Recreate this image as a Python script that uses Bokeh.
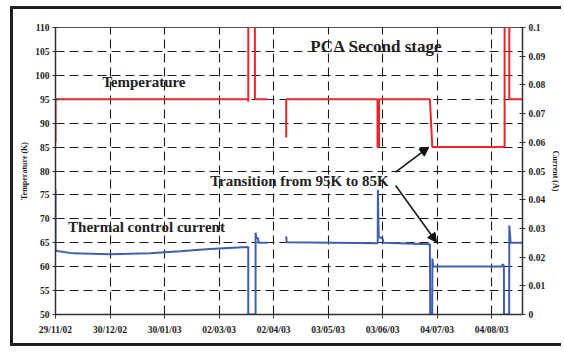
import numpy as np
import pandas as pd
from bokeh.plotting import figure
from bokeh.models import (Range1d, LinearAxis, FixedTicker, DatetimeTickFormatter,
                          NumeralTickFormatter, Label, Arrow, NormalHead, ColumnDataSource)
from bokeh.embed import file_html
from bokeh.resources import INLINE

nan = float("nan")

# ---- data -------------------------------------------------------------
tick_dates = ["2002-11-29", "2002-12-30", "2003-01-30", "2003-03-02", "2003-04-02",
              "2003-05-03", "2003-06-03", "2003-07-04", "2003-08-04"]
x_start_date = "2002-11-29 00:00"
x_end_date = "2003-08-21 14:00"

temp_time = ["2002-11-29 00:00", "2002-11-29 00:00", "2003-03-18 15:00", "2003-03-18 15:00",
             "2003-03-18 16:00", "2003-03-22 09:00", "2003-03-22 10:00", "2003-03-29 14:00",
             "2003-04-04 00:00",
             "2003-04-09 05:00", "2003-04-09 05:00", "2003-05-31 03:00", "2003-05-31 03:00",
             "2003-06-01 00:00", "2003-06-01 00:00", "2003-06-29 22:00", "2003-07-01 07:00",
             "2003-08-11 10:00", "2003-08-11 10:00", "2003-08-14 02:00", "2003-08-14 02:00",
             "2003-08-21 14:00"]
temp_K = [86, 95, 95, 94.5,
          125, 125, 95, 95,
          nan,
          87, 95, 95, 85,
          85, 95, 95, 85,
          85, 125, 125, 95,
          95]

cur_time = ["2002-11-29 00:00", "2002-11-29 00:00", "2002-12-09 00:00", "2002-12-30 00:00",
            "2003-01-22 00:00", "2003-01-30 00:00", "2003-02-08 00:00", "2003-02-17 00:00",
            "2003-02-25 00:00", "2003-03-10 00:00", "2003-03-18 15:00", "2003-03-18 15:00",
            "2003-03-22 19:00", "2003-03-22 19:00", "2003-03-23 06:00", "2003-03-24 06:00",
            "2003-03-24 12:00", "2003-03-29 14:00",
            "2003-04-04 00:00",
            "2003-04-09 05:00", "2003-04-09 12:00", "2003-05-31 06:00", "2003-05-31 08:00",
            "2003-05-31 20:00", "2003-06-03 00:00", "2003-06-03 12:00", "2003-06-29 22:00",
            "2003-06-30 02:00", "2003-07-01 06:00", "2003-07-01 08:00", "2003-07-01 18:00",
            "2003-08-10 00:00", "2003-08-10 06:00", "2003-08-11 00:00", "2003-08-11 02:00",
            "2003-08-14 00:00", "2003-08-14 02:00", "2003-08-14 20:00", "2003-08-21 14:00"]
cur_A = [0.0435, 0.0222, 0.0213, 0.0210,
         0.0213, 0.0217, 0.0220, 0.0225,
         0.0228, 0.0233, 0.0235, 0.0,
         0.0, 0.0285, 0.0267, 0.0265,
         0.0250, 0.0250,
         nan,
         0.0272, 0.0252, 0.0248, 0.0435,
         0.0270, 0.0265, 0.0250, 0.0245,
         0.0, 0.0, 0.0195, 0.0168,
         0.0167, 0.0175, 0.0170, 0.0,
         0.0, 0.0310, 0.0250, 0.0250]

temp_ticks = [50, 55, 60, 65, 70, 75, 80, 85, 90, 95, 100, 105, 110]
cur_ticks = [0, 0.01, 0.02, 0.03, 0.04, 0.05, 0.06, 0.07, 0.08, 0.09, 0.1]


def ms(s):
    return pd.Timestamp(s).value / 1e6


FONT = "Liberation Serif"
INK = "#222222"

p = figure(width=551, height=340, x_axis_type="datetime",
           x_range=Range1d(ms(x_start_date), ms(x_end_date)),
           y_range=Range1d(50, 110),
           output_backend="svg", toolbar_location=None,
           min_border_left=42, min_border_right=42, min_border_top=18, min_border_bottom=35,
           background_fill_color="white", border_fill_color="white")
p.styles = {"margin-left": "10px", "margin-top": "6px",
            "border-left": "3px solid #1e1e1e", "border-top": "3px solid #1e1e1e",
            "border-bottom": "3px solid #1e1e1e"}
p.outline_line_color = "#555555"
p.outline_line_width = 1

p.extra_y_ranges = {"cur": Range1d(0, 0.1)}

src_t = ColumnDataSource(dict(t=pd.to_datetime(temp_time), v=temp_K))
src_c = ColumnDataSource(dict(t=pd.to_datetime(cur_time), v=cur_A))
p.line("t", "v", source=src_t, line_color="#e8262b", line_width=2)
p.line("t", "v", source=src_c, line_color="#3f5fae", line_width=2, y_range_name="cur")

# grids
for g in (p.xgrid, p.ygrid):
    g.grid_line_color = "#1a1a1a"
    g.grid_line_dash = "9 5"
    g.grid_line_width = 1.1

# axes
xa = p.xaxis[0]
xa.ticker = FixedTicker(ticks=[ms(d) for d in tick_dates])
fmt = "%d/%m/%y"
xa.formatter = DatetimeTickFormatter(microseconds=fmt, milliseconds=fmt, seconds=fmt,
                                     minsec=fmt, minutes=fmt, hourmin=fmt, hours=fmt,
                                     days=fmt, months=fmt, years=fmt)
p.xgrid.ticker = xa.ticker

ya = p.yaxis[0]
ya.ticker = FixedTicker(ticks=temp_ticks)
ya.axis_label = "Temperature (K)"

ra = LinearAxis(y_range_name="cur", axis_label="Current (A)")
ra.ticker = FixedTicker(ticks=cur_ticks)
ra.formatter = NumeralTickFormatter(format="0.[00]")
p.add_layout(ra, "right")

for ax in (xa, ya, ra):
    ax.axis_line_color = "#333333"
    ax.axis_line_width = 1.5
    ax.major_tick_line_color = "#333333"
    ax.major_tick_line_width = 1
    ax.minor_tick_line_color = None
    ax.major_label_text_font = FONT
    ax.major_label_text_font_style = "bold"
    ax.major_label_text_font_size = "9.5px"
    ax.major_label_text_color = INK
    ax.axis_label_text_font = FONT
    ax.axis_label_text_font_style = "bold"
    ax.axis_label_text_font_size = "8px"
    ax.axis_label_text_color = INK
    ax.major_label_standoff = 3
    ax.axis_label_standoff = 3

xa.major_tick_in = 0
xa.major_tick_out = 4
xa.major_label_standoff = 6
for ax in (ya, ra):
    ax.major_tick_in = 3
    ax.major_tick_out = 3

# texts
def label(x, y, text, size):
    p.add_layout(Label(x=ms(x), y=y, text=text, text_font=FONT, text_font_style="bold",
                       text_font_size=size, text_color=INK, text_align="center",
                       text_baseline="middle"))

label("2003-05-30 12:00", 106.0, "PCA Second stage", "17px")
label("2003-01-18 06:00", 98.7, "Temperature", "15px")
label("2003-01-19 18:00", 68.2, "Thermal control current", "15px")
label("2003-04-16 18:00", 78.0, "Transition from 95K to 85K", "15px")

for xs, ys, xe, ye in [("2003-06-10 10:00", 79.75, "2003-06-29 07:00", 84.98),
                       ("2003-06-10 10:00", 76.97, "2003-07-03 17:00", 65.1)]:
    p.add_layout(Arrow(x_start=ms(xs), y_start=ys, x_end=ms(xe), y_end=ye,
                       line_color="#111111", line_width=1.5,
                       end=NormalHead(size=9, fill_color="#111111", line_color="#111111")))

open("out.html", "w").write(file_html(p, INLINE))
